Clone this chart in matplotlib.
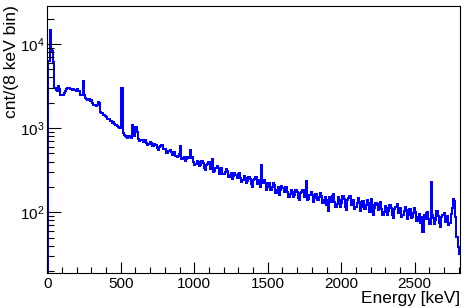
import numpy as np
import matplotlib
matplotlib.use("Agg")
import matplotlib.pyplot as plt
from matplotlib.ticker import LogLocator, MultipleLocator, LogFormatterMathtext, NullFormatter

plt.rcParams['font.family'] = ['Liberation Sans', 'DejaVu Sans']
plt.rcParams['mathtext.fontset'] = 'custom'
plt.rcParams['mathtext.rm'] = 'Liberation Sans'
plt.rcParams['mathtext.it'] = 'Liberation Sans:italic'
plt.rcParams['mathtext.bf'] = 'Liberation Sans:bold'

bin_width_kev = 8
energy_max = 2808
counts = [
    1, 6200, 14700, 8800, 8200, 6100, 3000, 2850, 2750, 3200,
    2900, 2500, 2450, 2480, 2600, 2750, 2900, 2980, 3000, 2900,
    2950, 2850, 2900, 2850, 2800, 2880, 2800, 2750, 2500, 2450,
    3600, 2450, 2300, 2200, 2150, 2200, 2100, 2150, 2000, 1900,
    1880, 1850, 1900, 2050, 2000, 1550, 1500, 1450, 1420, 1380,
    1350, 1300, 1280, 1220, 1200, 1150, 1180, 1120, 1100, 1050,
    1030, 1000, 990, 3000, 880, 820, 800, 790, 770, 800,
    780, 760, 1090, 820, 800, 1030, 900, 740, 700, 725,
    716, 676, 719, 728, 668, 630, 645, 681, 657, 613,
    611, 651, 623, 575, 551, 602, 610, 624, 558, 563,
    562, 507, 512, 530, 550, 525, 474, 488, 517, 467,
    456, 471, 497, 610, 429, 443, 457, 411, 434, 458,
    442, 550, 444, 451, 399, 366, 379, 411, 391, 353,
    366, 406, 382, 338, 316, 366, 376, 392, 329, 336,
    425, 305, 312, 333, 356, 334, 285, 303, 333, 285,
    285, 301, 328, 306, 261, 276, 291, 246, 269, 294,
    280, 254, 284, 291, 252, 227, 239, 269, 254, 225,
    236, 266, 249, 217, 202, 240, 248, 261, 216, 222,
    240, 198, 360, 221, 240, 223, 182, 197, 222, 184,
    186, 201, 224, 208, 171, 185, 200, 162, 183, 205,
    193, 173, 197, 202, 172, 153, 163, 185, 173, 151,
    161, 185, 172, 148, 138, 168, 175, 186, 151, 156,
    232, 140, 145, 159, 173, 162, 134, 146, 166, 138,
    140, 151, 169, 156, 129, 140, 150, 122, 138, 104,
    151, 133, 157, 164, 134, 116, 126, 151, 139, 117,
    129, 155, 142, 117, 107, 139, 147, 157, 121, 127,
    140, 110, 116, 130, 146, 134, 104, 115, 136, 108,
    109, 122, 141, 129, 101, 143, 123, 94, 111, 129,
    121, 106, 126, 131, 108, 93, 101, 120, 111, 94,
    103, 123, 113, 93, 85, 110, 116, 125, 97, 101,
    111, 87, 92, 103, 116, 107, 83, 93, 108, 86,
    87, 97, 112, 101, 79, 88, 96, 75, 87, 58,
    94, 82, 97, 102, 84, 72, 230, 93, 86, 73,
    81, 104, 89, 74, 67, 87, 92, 99, 77, 81,
    90, 71, 75, 95, 112, 145, 135, 88, 51, 39,
    32,
]
x_label = "Energy [keV]"
y_label = "cnt/(8 keV bin)"

edges = np.arange(0, bin_width_kev * (len(counts) + 1), bin_width_kev)

fig = plt.figure(figsize=(4.69, 3.08), dpi=100)
ax = fig.add_axes([47.3/469, 1 - 273.3/308, (460 - 47.3)/469, (273.3 - 6)/308])
ax.stairs(counts, edges, baseline=None, color=(0, 0, 1), linewidth=1.45)

ax.set_yscale('log')
ax.set_xlim(0, energy_max)
ax.set_ylim(18.8, 28300)

ax.xaxis.set_major_locator(MultipleLocator(500))
ax.xaxis.set_minor_locator(MultipleLocator(100))
ax.yaxis.set_major_locator(LogLocator(base=10))
ax.yaxis.set_major_formatter(LogFormatterMathtext())
ax.yaxis.set_minor_locator(LogLocator(base=10, subs=np.arange(2, 10)))
ax.yaxis.set_minor_formatter(NullFormatter())

ax.tick_params(which='both', direction='in', top=False, right=False, labelsize=11, colors='black', width=0.8)
ax.tick_params(axis='x', which='major', length=8, pad=3)
ax.tick_params(axis='x', which='minor', length=4.5)
ax.tick_params(axis='y', which='major', length=10, pad=2)
ax.tick_params(axis='y', which='minor', length=5)
for s in ax.spines.values():
    s.set_linewidth(0.8)
    s.set_color('black')

fig.text(460/469, 1 - 303.5/308, x_label, ha='right', va='baseline', fontsize=12.4)
fig.text(4/469, 1 - 5/308, y_label, ha='left', va='top', rotation=90, fontsize=12.6)

fig.savefig("out.png", dpi=100)
